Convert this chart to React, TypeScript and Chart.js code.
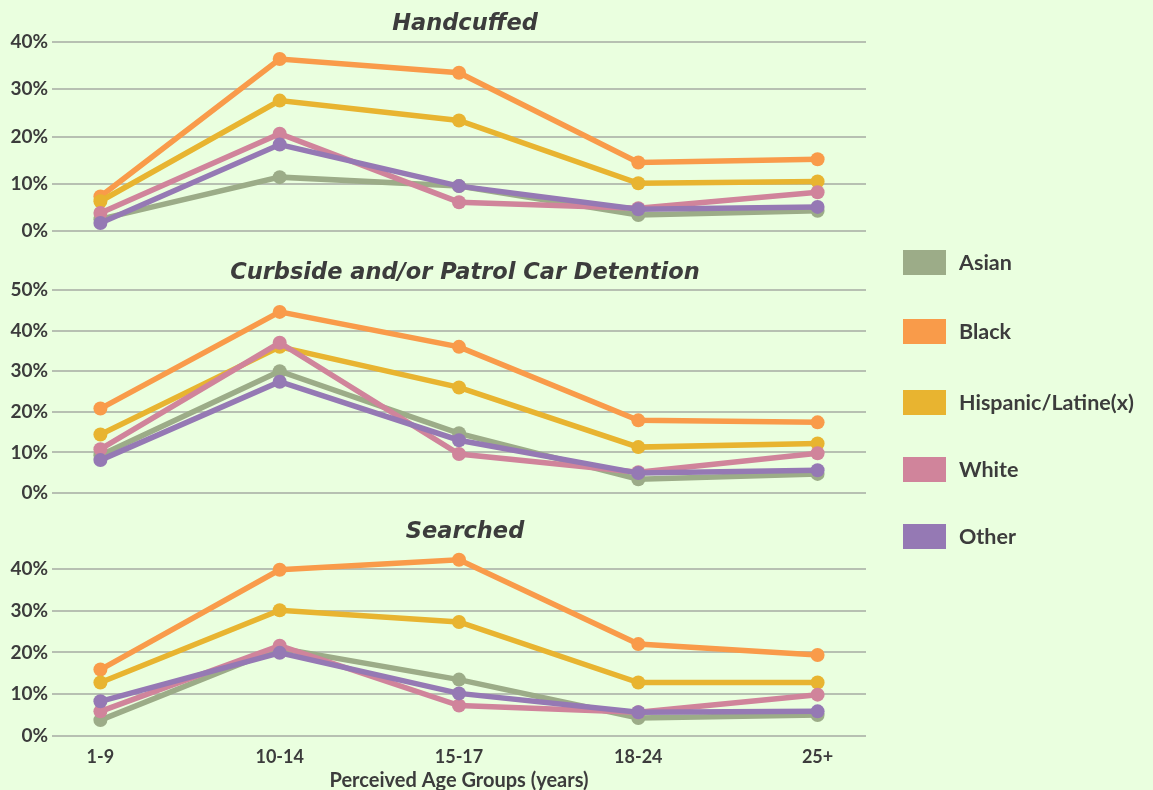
import React, { useEffect, useRef } from "react";
import { Chart, registerables } from "chart.js";
Chart.register(...registerables);

const categories = ["1-9", "10-14", "15-17", "18-24", "25+"];
const seriesNames = ["Asian", "Black", "Hispanic/Latine(x)", "White", "Other"];
const seriesColors = ["#9cac88", "#f99b4a", "#e8b430", "#d0849b", "#9579b4"];

const handcuffedAsian = [2.5, 11.4, 9.5, 3.4, 4.3];
const handcuffedBlack = [7.3, 36.4, 33.5, 14.5, 15.2];
const handcuffedHispanic = [6.3, 27.6, 23.4, 10.1, 10.5];
const handcuffedWhite = [3.8, 20.6, 6.1, 4.8, 8.2];
const handcuffedOther = [1.7, 18.3, 9.5, 4.6, 5.1];

const curbsideAsian = [9.3, 30.0, 14.7, 3.4, 4.7];
const curbsideBlack = [20.8, 44.6, 36.0, 17.9, 17.4];
const curbsideHispanic = [14.4, 36.0, 26.0, 11.3, 12.2];
const curbsideWhite = [10.8, 37.0, 9.6, 5.1, 9.8];
const curbsideOther = [8.1, 27.4, 13.0, 4.9, 5.6];

const searchedAsian = [3.8, 21.0, 13.5, 4.3, 5.0];
const searchedBlack = [15.9, 39.8, 42.2, 22.0, 19.4];
const searchedHispanic = [12.8, 30.1, 27.3, 12.8, 12.8];
const searchedWhite = [5.9, 21.6, 7.3, 5.7, 9.9];
const searchedOther = [8.3, 19.9, 10.2, 5.7, 5.9];

const panelTitles = ["Handcuffed", "Curbside and/or Patrol Car Detention", "Searched"];
const panelMax = [40, 50, 45];
const panelSeries = [
  [handcuffedAsian, handcuffedBlack, handcuffedHispanic, handcuffedWhite, handcuffedOther],
  [curbsideAsian, curbsideBlack, curbsideHispanic, curbsideWhite, curbsideOther],
  [searchedAsian, searchedBlack, searchedHispanic, searchedWhite, searchedOther],
];
const xAxisTitle = "Perceived Age Groups (years)";

const BG = "#eaffdf";
const TEXT = "#3c3c3c";
const FONT = "Lato, 'Open Sans', sans-serif";
const TITLE_FONT = "'DejaVu Sans', sans-serif";

const layouts = [
  { top: 0, height: 250, titleTop: 11, titleBottom: 4, padBottom: 19, showX: false },
  { top: 250, height: 260, titleTop: 10, titleBottom: 3, padBottom: 17, showX: false },
  { top: 510, height: 280, titleTop: 9, titleBottom: 2, padBottom: 0, showX: true },
];

function Panel({ idx }: { idx: number }) {
  const ref = useRef<HTMLCanvasElement | null>(null);
  const L = layouts[idx];
  useEffect(() => {
    if (!ref.current) return;
    const datasets = panelSeries[idx].map((vals, i) => ({
      label: seriesNames[i],
      data: vals.map((v, j) => ({ x: j, y: v })),
      borderColor: seriesColors[i],
      backgroundColor: seriesColors[i],
      pointBackgroundColor: seriesColors[i],
      pointBorderColor: seriesColors[i],
      borderWidth: 5.5,
      pointRadius: 7,
      pointBorderWidth: 0,
      tension: 0,
      order: seriesNames.length - i,
    }));
    const chart = new Chart(ref.current, {
      type: "line",
      data: { datasets },
      options: {
        animation: false,
        responsive: false,
        layout: { padding: { left: 0, right: 0, top: 0, bottom: L.padBottom } },
        plugins: {
          legend: { display: false },
          tooltip: { enabled: false },
          title: {
            display: true,
            text: panelTitles[idx],
            color: TEXT,
            font: { family: TITLE_FONT, size: 22.5, weight: "bold", style: "italic", lineHeight: 1.2 },
            padding: { top: L.titleTop, bottom: L.titleBottom },
          },
        },
        scales: {
          x: {
            type: "linear",
            display: L.showX,
            min: -0.27,
            max: 4.27,
            grid: { display: false, drawTicks: false },
            border: { display: false },
            afterBuildTicks: (s: any) => {
              s.ticks = categories.map((_, i) => ({ value: i }));
            },
            afterFit: (s: any) => {
              if (L.showX) s.height = 54;
            },
            ticks: {
              autoSkip: false,
              maxRotation: 0,
              padding: 10,
              color: TEXT,
              font: { family: FONT, size: 18, weight: "bold" },
              callback: (v: any) => categories[v] ?? "",
            },
            title: {
              display: L.showX,
              text: xAxisTitle,
              color: TEXT,
              font: { family: FONT, size: 20, weight: "bold", lineHeight: 0.9 },
              padding: { top: 0, bottom: 0 },
            },
          },
          y: {
            min: 0,
            max: panelMax[idx],
            afterFit: (s: any) => {
              s.width = 52;
            },
            grid: { color: "rgba(140,140,140,0.55)", lineWidth: 2, drawTicks: false },
            border: { display: false },
            ticks: {
              stepSize: 5,
              padding: 4,
              color: TEXT,
              font: { family: FONT, size: 19, weight: "bold" },
              callback: (v: any) => (Number(v) % 10 === 0 ? v + "%" : ""),
            },
          },
          yRightSpace: {
            position: "right",
            display: true,
            afterFit: (s: any) => {
              s.width = 64;
            },
            grid: { display: false, drawTicks: false },
            border: { display: false },
            ticks: { display: false },
          },
        },
      },
    });
    return () => chart.destroy();
  }, [idx]);
  return (
    <canvas
      ref={ref}
      width={930}
      height={L.height}
      style={{ position: "absolute", left: 0, top: L.top, width: 930, height: L.height }}
    />
  );
}

const legendCenters = [262, 331, 402, 469, 536];

export default function App() {
  return (
    <div
      style={{
        position: "absolute",
        left: 0,
        top: 0,
        width: 1153,
        height: 790,
        background: BG,
        overflow: "hidden",
      }}
    >
      {[0, 1, 2].map((i) => (
        <Panel key={i} idx={i} />
      ))}
      {seriesNames.map((name, i) => (
        <div key={name}>
          <div
            style={{
              position: "absolute",
              left: 903,
              top: legendCenters[i] - 12.5,
              width: 43,
              height: 25,
              background: seriesColors[i],
            }}
          />
          <div
            style={{
              position: "absolute",
              left: 959,
              top: legendCenters[i] - 14,
              height: 28,
              lineHeight: "28px",
              fontFamily: FONT,
              fontWeight: "bold",
              fontSize: 21.5,
              color: TEXT,
              whiteSpace: "nowrap",
            }}
          >
            {name}
          </div>
        </div>
      ))}
    </div>
  );
}
